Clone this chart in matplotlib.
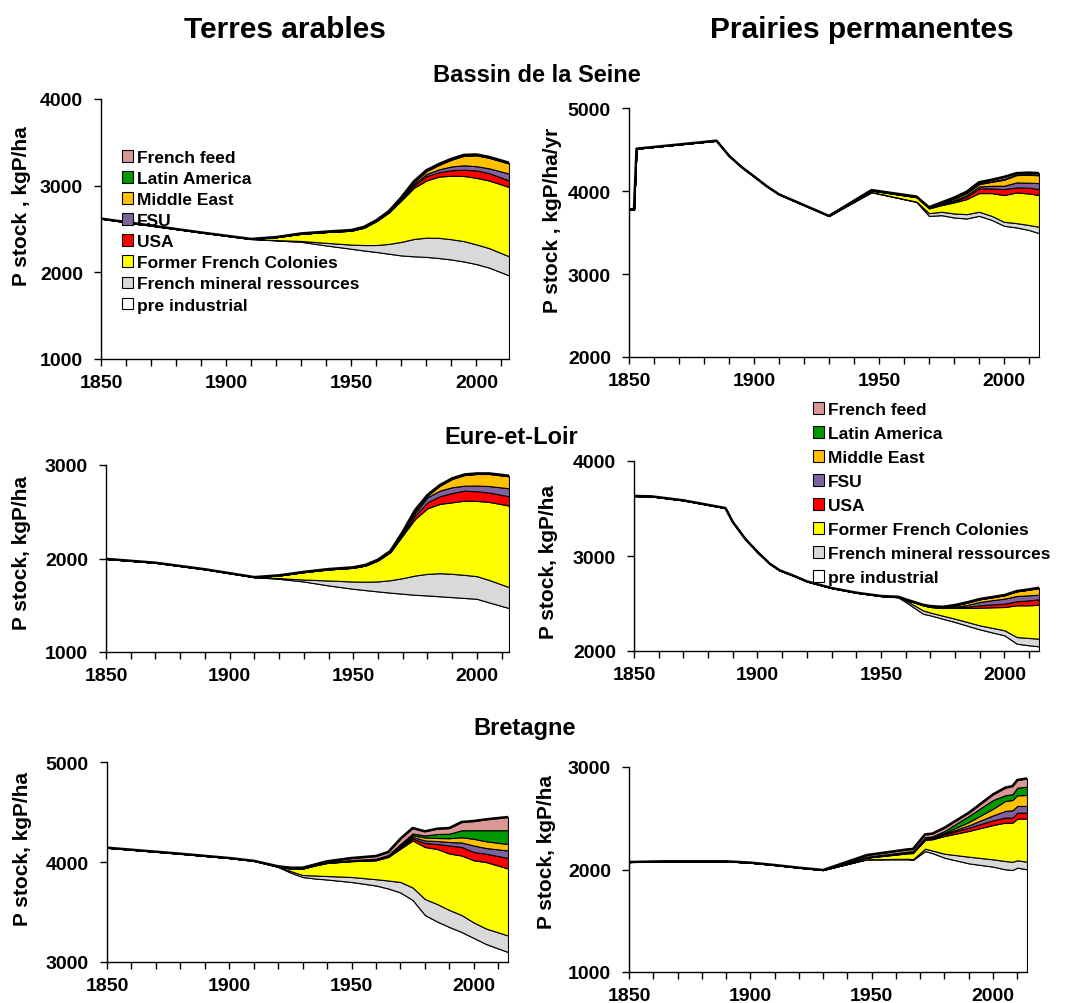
import matplotlib
matplotlib.use("Agg")
import matplotlib.pyplot as plt
from matplotlib.patches import Patch
from matplotlib.ticker import MultipleLocator

plt.rcParams['font.family'] = ['Liberation Sans', 'DejaVu Sans']
plt.rcParams['font.weight'] = 'bold'

# legend order (top -> bottom) and colours
layer_names = ["French feed", "Latin America", "Middle East", "FSU", "USA",
               "Former French Colonies", "French mineral ressources", "pre industrial"]
layer_colors = ["#D99795", "#009A00", "#FFC000", "#7F63A1", "#FF0000",
                "#FFFF00", "#D9D9D9", "#FFFFFF"]

# ---- Bassin de la Seine, terres arables (cumulative tops, kgP/ha)
seine_ar_years = [1850, 1870, 1890, 1910, 1920, 1930, 1940, 1950, 1955, 1960, 1965, 1970, 1975, 1980, 1985, 1990, 1995, 2000, 2005, 2013]
seine_ar_pre = [2620, 2540, 2460, 2385, 2368, 2352, 2310, 2272, 2252, 2235, 2215, 2195, 2185, 2178, 2165, 2148, 2125, 2095, 2055, 1965]
seine_ar_min = [2620, 2540, 2460, 2385, 2372, 2362, 2340, 2320, 2315, 2315, 2328, 2352, 2385, 2400, 2398, 2382, 2360, 2322, 2280, 2185]
seine_ar_col = [2620, 2540, 2460, 2385, 2405, 2445, 2465, 2480, 2515, 2590, 2690, 2830, 2975, 3060, 3105, 3115, 3112, 3090, 3060, 2985]
seine_ar_usa = [2620, 2540, 2460, 2385, 2405, 2445, 2465, 2480, 2515, 2592, 2693, 2840, 3000, 3110, 3155, 3178, 3185, 3175, 3145, 3060]
seine_ar_fsu = [2620, 2540, 2460, 2385, 2405, 2445, 2465, 2482, 2517, 2594, 2696, 2848, 3018, 3135, 3188, 3222, 3235, 3225, 3200, 3140]
seine_ar_me = [2620, 2540, 2460, 2385, 2406, 2447, 2467, 2484, 2520, 2597, 2700, 2858, 3040, 3168, 3240, 3300, 3345, 3350, 3322, 3255]
seine_ar_lat = [2620, 2540, 2460, 2385, 2406, 2447, 2468, 2485, 2521, 2598, 2702, 2862, 3045, 3172, 3244, 3304, 3349, 3354, 3326, 3259]
seine_ar_feed = [2620, 2540, 2460, 2385, 2407, 2449, 2470, 2488, 2524, 2601, 2706, 2866, 3050, 3178, 3250, 3310, 3355, 3360, 3332, 3265]

# ---- Bassin de la Seine, prairies permanentes
seine_pp_years = [1850, 1852, 1853, 1885, 1890, 1895, 1900, 1905, 1910, 1920, 1930, 1947, 1965, 1970, 1975, 1980, 1985, 1990, 1995, 2000, 2005, 2010, 2014]
seine_pp_pre = [3780, 3780, 4510, 4606, 4425, 4290, 4176, 4060, 3960, 3830, 3700, 3985, 3868, 3700, 3709, 3681, 3669, 3701, 3653, 3581, 3561, 3530, 3492]
seine_pp_min = [3780, 3780, 4510, 4606, 4425, 4290, 4176, 4060, 3960, 3830, 3700, 3988, 3872, 3733, 3750, 3730, 3721, 3750, 3701, 3629, 3613, 3590, 3569]
seine_pp_col = [3780, 3780, 4510, 4606, 4425, 4290, 4176, 4060, 3960, 3830, 3700, 4005, 3925, 3790, 3830, 3862, 3902, 3975, 3975, 3951, 3983, 3970, 3951]
seine_pp_usa = [3780, 3780, 4510, 4606, 4425, 4290, 4176, 4060, 3960, 3830, 3700, 4006, 3927, 3795, 3840, 3875, 3930, 4031, 4031, 4023, 4043, 4040, 4023]
seine_pp_fsu = [3780, 3780, 4510, 4606, 4425, 4290, 4176, 4060, 3960, 3830, 3700, 4007, 3928, 3797, 3845, 3890, 3950, 4055, 4063, 4063, 4103, 4100, 4095]
seine_pp_me = [3780, 3780, 4510, 4606, 4425, 4290, 4176, 4060, 3960, 3830, 3700, 4008, 3930, 3800, 3855, 3910, 3975, 4083, 4111, 4136, 4192, 4195, 4190]
seine_pp_lat = [3780, 3780, 4510, 4606, 4425, 4290, 4176, 4060, 3960, 3830, 3700, 4009, 3931, 3802, 3858, 3914, 3980, 4090, 4118, 4145, 4200, 4203, 4198]
seine_pp_feed = [3780, 3780, 4510, 4606, 4425, 4290, 4176, 4060, 3960, 3830, 3700, 4011, 3933, 3805, 3862, 3920, 3990, 4105, 4135, 4170, 4215, 4222, 4215]

# ---- Eure-et-Loir, terres arables
eure_ar_years = [1850, 1870, 1890, 1910, 1920, 1930, 1940, 1950, 1955, 1960, 1965, 1970, 1975, 1980, 1985, 1990, 1995, 2000, 2005, 2013]
eure_ar_pre = [1996, 1955, 1885, 1801, 1783, 1754, 1712, 1676, 1662, 1648, 1635, 1623, 1612, 1605, 1596, 1587, 1578, 1569, 1530, 1470]
eure_ar_min = [1996, 1955, 1885, 1801, 1790, 1775, 1765, 1754, 1752, 1755, 1768, 1790, 1818, 1836, 1843, 1836, 1825, 1811, 1770, 1694]
eure_ar_col = [1996, 1955, 1885, 1801, 1818, 1854, 1883, 1900, 1925, 1979, 2068, 2246, 2423, 2537, 2584, 2601, 2619, 2616, 2605, 2566]
eure_ar_usa = [1996, 1955, 1885, 1801, 1818, 1854, 1883, 1901, 1926, 1980, 2070, 2260, 2459, 2601, 2665, 2701, 2726, 2719, 2705, 2665]
eure_ar_fsu = [1996, 1955, 1885, 1801, 1818, 1855, 1884, 1902, 1927, 1982, 2072, 2268, 2488, 2655, 2726, 2762, 2779, 2780, 2775, 2751]
eure_ar_me = [1996, 1955, 1885, 1801, 1819, 1856, 1885, 1903, 1929, 1984, 2075, 2280, 2512, 2673, 2779, 2851, 2893, 2904, 2904, 2879]
eure_ar_lat = [1996, 1955, 1885, 1801, 1819, 1856, 1886, 1904, 1930, 1986, 2077, 2283, 2515, 2676, 2782, 2854, 2896, 2907, 2907, 2882]
eure_ar_feed = [1996, 1955, 1885, 1801, 1820, 1857, 1887, 1906, 1932, 1988, 2080, 2286, 2518, 2679, 2785, 2857, 2899, 2910, 2910, 2885]

# ---- Eure-et-Loir, prairies permanentes
eure_pp_years = [1850, 1857, 1870, 1887, 1890, 1895, 1900, 1905, 1909, 1915, 1920, 1930, 1940, 1950, 1957, 1960, 1967, 1970, 1975, 1980, 1985, 1990, 1995, 2000, 2005, 2010, 2014]
eure_pp_pre = [3632, 3628, 3586, 3505, 3358, 3182, 3042, 2919, 2849, 2789, 2733, 2663, 2614, 2579, 2565, 2516, 2393, 2375, 2340, 2305, 2266, 2228, 2196, 2165, 2077, 2060, 2049]
eure_pp_min = [3632, 3628, 3586, 3505, 3358, 3182, 3042, 2919, 2849, 2789, 2733, 2663, 2614, 2579, 2566, 2533, 2428, 2404, 2372, 2340, 2305, 2270, 2244, 2218, 2147, 2137, 2130]
eure_pp_col = [3632, 3628, 3586, 3505, 3358, 3182, 3042, 2919, 2849, 2789, 2733, 2663, 2614, 2579, 2568, 2540, 2481, 2463, 2453, 2453, 2453, 2456, 2460, 2463, 2481, 2481, 2488]
eure_pp_usa = [3632, 3628, 3586, 3505, 3358, 3182, 3042, 2919, 2849, 2789, 2733, 2663, 2614, 2579, 2569, 2541, 2482, 2464, 2456, 2460, 2466, 2481, 2490, 2498, 2523, 2533, 2544]
eure_pp_fsu = [3632, 3628, 3586, 3505, 3358, 3182, 3042, 2919, 2849, 2789, 2733, 2663, 2614, 2579, 2569, 2542, 2483, 2466, 2459, 2467, 2485, 2516, 2535, 2551, 2579, 2586, 2593]
eure_pp_me = [3632, 3628, 3586, 3505, 3358, 3182, 3042, 2919, 2849, 2789, 2733, 2663, 2614, 2579, 2570, 2543, 2485, 2470, 2462, 2481, 2510, 2544, 2565, 2586, 2628, 2646, 2663]
eure_pp_lat = [3632, 3628, 3586, 3505, 3358, 3182, 3042, 2919, 2849, 2789, 2733, 2663, 2614, 2579, 2570, 2543, 2486, 2471, 2463, 2482, 2511, 2545, 2566, 2587, 2629, 2647, 2664]
eure_pp_feed = [3632, 3628, 3586, 3505, 3358, 3182, 3042, 2919, 2849, 2789, 2733, 2663, 2614, 2579, 2571, 2544, 2487, 2473, 2465, 2484, 2513, 2547, 2568, 2589, 2631, 2649, 2666]

# ---- Bretagne, terres arables
bret_ar_years = [1850, 1880, 1900, 1910, 1920, 1925, 1930, 1935, 1940, 1950, 1960, 1965, 1970, 1975, 1980, 1985, 1990, 1995, 2000, 2005, 2014]
bret_ar_pre = [4143, 4083, 4040, 4012, 3950, 3895, 3850, 3835, 3825, 3800, 3765, 3735, 3695, 3620, 3470, 3405, 3350, 3300, 3240, 3180, 3100]
bret_ar_min = [4143, 4083, 4040, 4012, 3955, 3910, 3870, 3865, 3860, 3850, 3828, 3815, 3800, 3745, 3630, 3580, 3520, 3470, 3395, 3335, 3265]
bret_ar_col = [4143, 4083, 4040, 4012, 3955, 3935, 3933, 3965, 3990, 4008, 4017, 4050, 4133, 4215, 4150, 4130, 4085, 4065, 4017, 4000, 3935]
bret_ar_usa = [4143, 4083, 4040, 4012, 3955, 3935, 3935, 3967, 3992, 4010, 4020, 4055, 4145, 4235, 4190, 4180, 4165, 4150, 4100, 4083, 4040]
bret_ar_fsu = [4143, 4083, 4040, 4012, 3955, 3936, 3936, 3968, 3994, 4012, 4023, 4060, 4155, 4252, 4215, 4210, 4200, 4195, 4165, 4140, 4115]
bret_ar_me = [4143, 4083, 4040, 4012, 3955, 3936, 3937, 3970, 3996, 4015, 4027, 4065, 4165, 4268, 4245, 4240, 4238, 4248, 4232, 4207, 4180]
bret_ar_lat = [4143, 4083, 4040, 4012, 3956, 3937, 3938, 3972, 3999, 4020, 4033, 4070, 4180, 4285, 4265, 4280, 4283, 4317, 4318, 4318, 4318]
bret_ar_feed = [4143, 4083, 4040, 4012, 3957, 3943, 3943, 3975, 4007, 4040, 4060, 4100, 4233, 4340, 4307, 4333, 4340, 4400, 4410, 4427, 4450]

# ---- Bretagne, prairies permanentes
bret_pp_years = [1850, 1865, 1890, 1900, 1910, 1920, 1930, 1948, 1965, 1967, 1972, 1975, 1980, 1990, 2000, 2005, 2008, 2010, 2014]
bret_pp_pre = [2073, 2080, 2080, 2067, 2044, 2018, 1995, 2099, 2099, 2093, 2180, 2160, 2115, 2060, 2028, 2002, 1995, 2018, 2002]
bret_pp_min = [2073, 2080, 2080, 2067, 2044, 2018, 1995, 2100, 2105, 2100, 2203, 2185, 2154, 2125, 2099, 2083, 2075, 2090, 2076]
bret_pp_col = [2073, 2080, 2080, 2067, 2044, 2018, 1995, 2115, 2158, 2160, 2288, 2295, 2327, 2376, 2434, 2457, 2457, 2496, 2496]
bret_pp_usa = [2073, 2080, 2080, 2067, 2044, 2018, 1995, 2117, 2162, 2165, 2295, 2302, 2343, 2408, 2480, 2506, 2506, 2554, 2554]
bret_pp_fsu = [2073, 2080, 2080, 2067, 2044, 2018, 1995, 2119, 2165, 2168, 2300, 2308, 2350, 2431, 2528, 2571, 2578, 2620, 2620]
bret_pp_me = [2073, 2080, 2080, 2067, 2044, 2018, 1995, 2122, 2170, 2173, 2305, 2313, 2359, 2463, 2593, 2668, 2678, 2724, 2727]
bret_pp_lat = [2073, 2080, 2080, 2067, 2044, 2018, 1995, 2125, 2175, 2178, 2315, 2323, 2376, 2522, 2678, 2724, 2734, 2798, 2808]
bret_pp_feed = [2073, 2080, 2080, 2067, 2044, 2018, 1995, 2141, 2197, 2200, 2343, 2350, 2408, 2554, 2733, 2798, 2814, 2873, 2889]


def px(x, y, w, h):
    # pixel box (left, top, width, height) -> figure fraction
    return [x / 1070, 1 - (y + h) / 1004, w / 1070, h / 1004]


def draw_panel(ax, years, tops, ylim):
    # tops: bottom -> top (pre, mineral, colonies, usa, fsu, me, lat, feed)
    colors = layer_colors[::-1]
    lower = [0] * len(years)
    for top, c in zip(tops, colors):
        ax.fill_between(years, lower, top, facecolor=c, edgecolor='black', linewidth=0.8)
        lower = top
    ax.plot(years, tops[-1], color='black', linewidth=1.8, solid_capstyle='butt')
    ax.set_xlim(1850, years[-1])
    ax.set_ylim(*ylim)
    ax.yaxis.set_major_locator(MultipleLocator(1000))
    ax.xaxis.set_major_locator(MultipleLocator(50))
    ax.xaxis.set_minor_locator(MultipleLocator(10))
    for s in ['top', 'right']:
        ax.spines[s].set_visible(False)
    for s in ['left', 'bottom']:
        ax.spines[s].set_linewidth(1.0)
    ax.tick_params(axis='y', which='both', direction='out', length=5, width=1, labelsize=14, pad=8)
    ax.tick_params(axis='x', which='both', direction='out', length=5, width=1, labelsize=14, pad=6)
    for lab in ax.get_xticklabels() + ax.get_yticklabels():
        lab.set_fontweight('bold')


fig = plt.figure(figsize=(10.7, 10.04), dpi=100)

ax1 = fig.add_axes(px(101, 100, 408, 260))
ax2 = fig.add_axes(px(629, 109, 410, 249))
ax3 = fig.add_axes(px(106, 466, 403, 187))
ax4 = fig.add_axes(px(634, 462, 405, 190))
ax5 = fig.add_axes(px(107, 763, 401, 200))
ax6 = fig.add_axes(px(629, 768, 398, 205))

draw_panel(ax1, seine_ar_years, [seine_ar_pre, seine_ar_min, seine_ar_col, seine_ar_usa,
                                 seine_ar_fsu, seine_ar_me, seine_ar_lat, seine_ar_feed], (1000, 4000))
draw_panel(ax2, seine_pp_years, [seine_pp_pre, seine_pp_min, seine_pp_col, seine_pp_usa,
                                 seine_pp_fsu, seine_pp_me, seine_pp_lat, seine_pp_feed], (2000, 5000))
draw_panel(ax3, eure_ar_years, [eure_ar_pre, eure_ar_min, eure_ar_col, eure_ar_usa,
                                eure_ar_fsu, eure_ar_me, eure_ar_lat, eure_ar_feed], (1000, 3000))
draw_panel(ax4, eure_pp_years, [eure_pp_pre, eure_pp_min, eure_pp_col, eure_pp_usa,
                                eure_pp_fsu, eure_pp_me, eure_pp_lat, eure_pp_feed], (2000, 4000))
draw_panel(ax5, bret_ar_years, [bret_ar_pre, bret_ar_min, bret_ar_col, bret_ar_usa,
                                bret_ar_fsu, bret_ar_me, bret_ar_lat, bret_ar_feed], (3000, 5000))
draw_panel(ax6, bret_pp_years, [bret_pp_pre, bret_pp_min, bret_pp_col, bret_pp_usa,
                                bret_pp_fsu, bret_pp_me, bret_pp_lat, bret_pp_feed], (1000, 3000))

# y labels (placed in pixels)
ylabels = [("P stock , kgP/ha", 22, 206), ("P stock , kgP/ha/yr", 552, 220),
           ("P stock, kgP/ha", 22, 553), ("P stock, kgP/ha", 548, 562),
           ("P stock, kgP/ha", 23, 849), ("P stock, kgP/ha", 547, 852)]
for txt, x, y in ylabels:
    fig.text(x / 1070, 1 - y / 1004, txt, rotation=90, ha='center', va='center',
             fontsize=15, fontweight='bold')

# titles
fig.text(285 / 1070, 1 - 30 / 1004, "Terres arables", ha='center', va='center', fontsize=21.5, fontweight='bold')
fig.text(862 / 1070, 1 - 30 / 1004, "Prairies permanentes", ha='center', va='center', fontsize=21.5, fontweight='bold')
fig.text(537 / 1070, 1 - 75 / 1004, "Bassin de la Seine", ha='center', va='center', fontsize=17, fontweight='bold')
fig.text(511 / 1070, 1 - 437 / 1004, "Eure-et-Loir", ha='center', va='center', fontsize=17, fontweight='bold')
fig.text(525 / 1070, 1 - 729 / 1004, "Bretagne", ha='center', va='center', fontsize=17, fontweight='bold')

# legends
handles = [Patch(facecolor=c, edgecolor='black', linewidth=0.8) for c in layer_colors]
fig.legend(handles, layer_names, loc='upper left', bbox_to_anchor=(122 / 1070, 1 - 151 / 1004),
           frameon=False, borderpad=0, borderaxespad=0, handlelength=0.65, handleheight=0.65,
           handletextpad=0.2, labelspacing=0.35, prop={'size': 12.5, 'weight': 'bold'})
fig.legend(handles, layer_names, loc='upper left', bbox_to_anchor=(813 / 1070, 1 - 403 / 1004),
           frameon=False, borderpad=0, borderaxespad=0, handlelength=0.65, handleheight=0.65,
           handletextpad=0.2, labelspacing=0.52, prop={'size': 12.5, 'weight': 'bold'})

fig.savefig("out.png", dpi=100)
